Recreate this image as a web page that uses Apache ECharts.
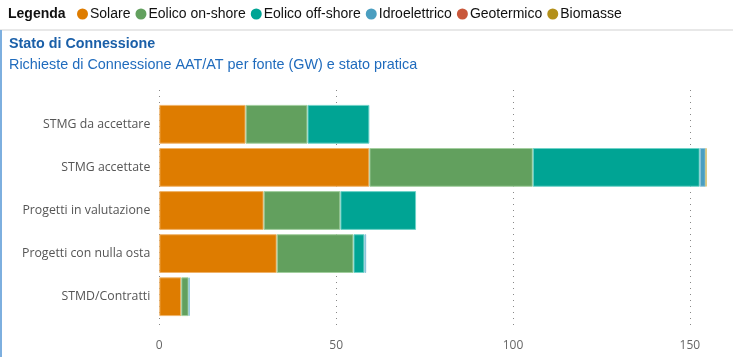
<!DOCTYPE html>
<html><head><meta charset="utf-8">
<script src="https://cdn.jsdelivr.net/npm/echarts@6/dist/echarts.min.js"></script>
<style>html,body{margin:0;padding:0;background:#fff}#c{width:733px;height:357px}</style>
</head><body><div id="c"></div>
<script>
const categories = ['STMG da accettare','STMG accettate','Progetti in valutazione','Progetti con nulla osta','STMD/Contratti'];
const seriesNames = ['Solare','Eolico on-shore','Eolico off-shore','Idroelettrico','Geotermico','Biomasse'];
const solare = [24.4, 59.4, 29.5, 33.2, 6.2];
const eolicoOn = [17.5, 46.2, 21.7, 21.7, 2.1];
const eolicoOff = [17.5, 47.2, 21.4, 3.1, 0];
const idro = [0, 1.7, 0, 0.5, 0.3];
const geo = [0, 0, 0, 0, 0];
const bio = [0, 0.2, 0, 0, 0];
const xTicks = [0, 50, 100, 150];

const colors = ['#de7c00','#62a05e','#00a494','#4a9ec0','#c9573a','#b3901a'];
const borders = ['#f0b46a','#a3cf9f','#6fd3c8','#8fc6dc','#e39a86','#d9c06a'];
const values = [solare, eolicoOn, eolicoOff, idro, geo, bio];

const chart = echarts.init(document.getElementById('c'));
const font = '"Segoe UI","Open Sans",sans-serif';
chart.setOption({
  animation: false,
  color: colors,
  graphic: [
    {type:'rect', shape:{x:0,y:29,width:733,height:2}, style:{fill:'#e8e8e8'}},
    {type:'rect', shape:{x:0,y:30,width:2,height:327}, style:{fill:'#7dafdf'}},
    {type:'text', left:8, top:7, style:{text:'Legenda', font:'bold 14px "Liberation Sans", Arial', fill:'#111'}},
    {type:'text', left:9, top:37, style:{text:'Stato di Connessione', font:'bold 14.3px "Liberation Sans", Arial', fill:'#1a5fa8'}},
    {type:'text', left:9, top:58, style:{text:'Richieste di Connessione AAT/AT per fonte (GW) e stato pratica', font:'14.4px "Liberation Sans", Arial', fill:'#1f6bbd'}}
  ],
  legend: {
    left: 77, top: 7, padding: 0, icon: 'circle', itemWidth: 11, itemHeight: 11, itemGap: 5,
    itemStyle: {borderWidth: 0},
    textStyle: {fontFamily:'"Liberation Sans", Arial', fontSize: 14, color: '#111', padding:[0,0,0,-3]},
    data: seriesNames
  },
  grid: [
    {left:159.3, right:25.5, top:102.75, bottom:38.75},
    {left:159.3, right:43.1, top:90, bottom:29}
  ],
  xAxis: [
    {type:'value', gridIndex:0, min:0, max:155, interval:50,
     axisLine:{show:false}, axisTick:{show:false}, splitLine:{show:false},
     axisLabel:{margin:21, color:'#666', fontFamily:font, fontSize:12, showMaxLabel:false,
       formatter: v => xTicks.includes(v) ? String(v) : ''}},
    {type:'value', gridIndex:1, min:0, max:150, interval:50,
     axisLine:{show:false}, axisTick:{show:false}, axisLabel:{show:false},
     splitLine:{show:true, lineStyle:{type:[1,5], color:'#888', width:1}}}
  ],
  yAxis: [
    {type:'category', gridIndex:0, inverse:true, data:categories,
     axisLine:{show:false}, axisTick:{show:false},
     axisLabel:{margin:9, color:'#555', fontFamily:font, fontSize:12.3, padding:[3,0,0,0]}},
    {type:'category', gridIndex:1, data:['x'], show:false}
  ],
  series: seriesNames.map((n,i)=>({
    name:n, type:'bar', stack:'t', xAxisIndex:0, yAxisIndex:0,
    barCategoryGap:'10%', data: values[i].map(v => v === 0 ? '-' : v),
    itemStyle:{color:colors[i], borderColor:borders[i], borderWidth:1}
  }))
});
</script></body></html>
